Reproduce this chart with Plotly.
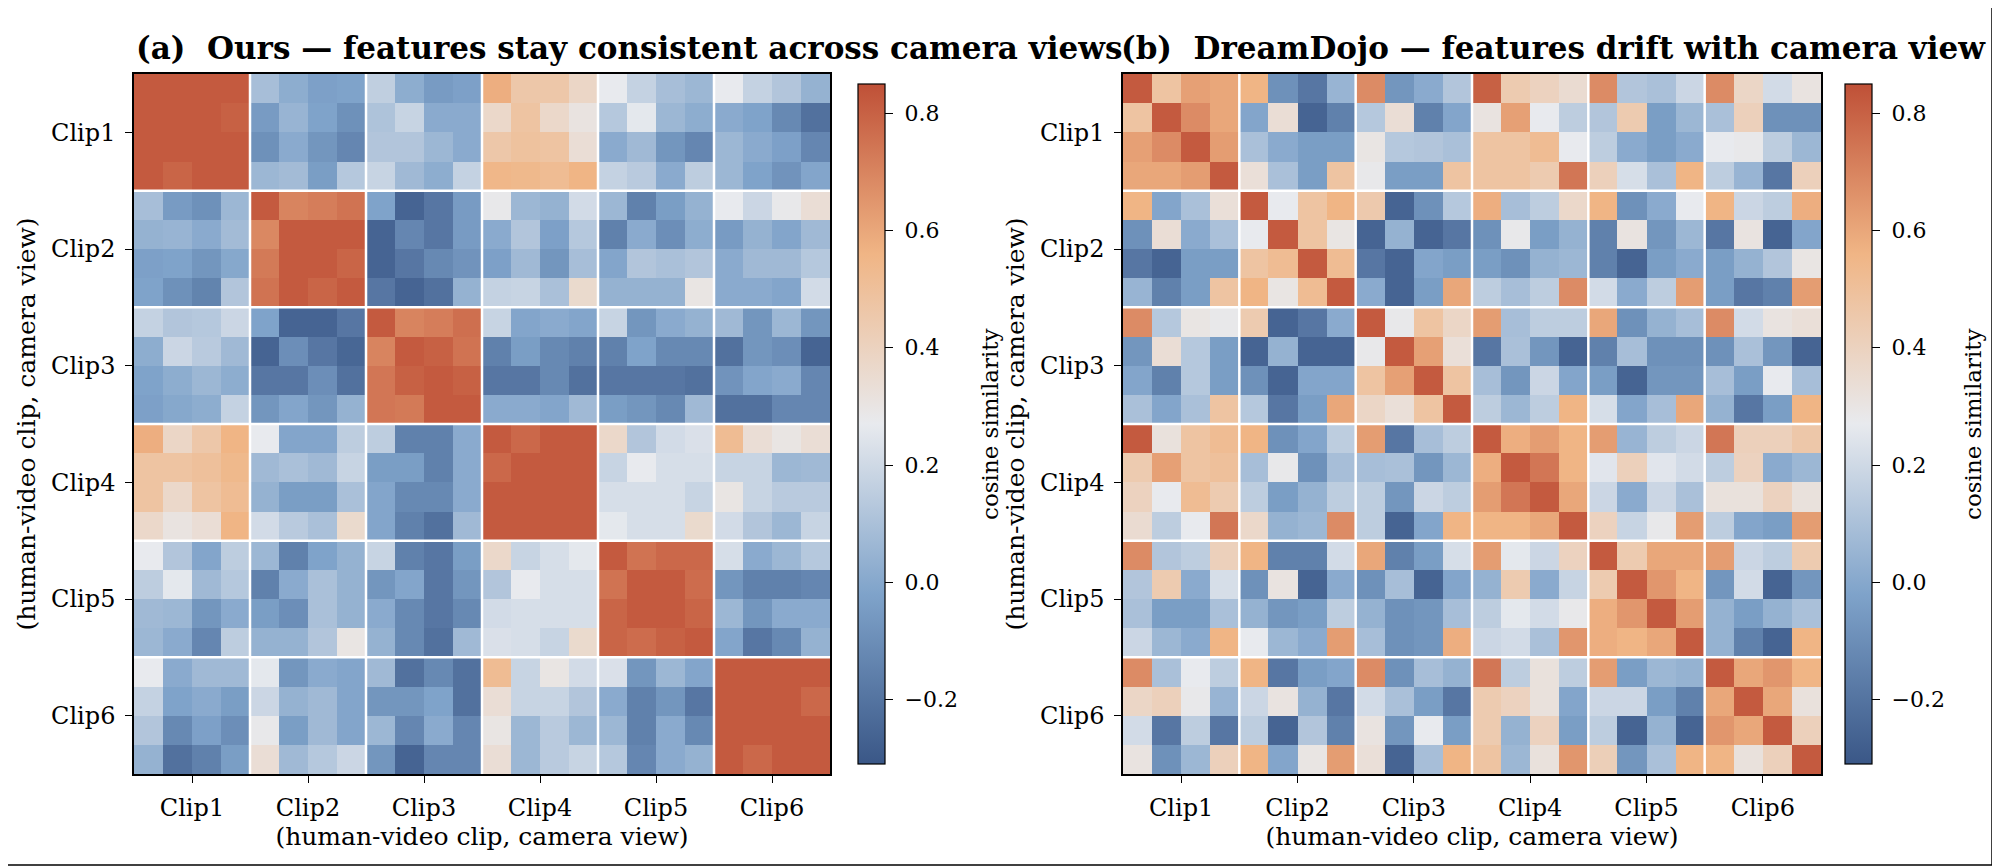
import plotly.graph_objects as go

clip_labels = ["Clip1", "Clip2", "Clip3", "Clip4", "Clip5", "Clip6"]
cbar_ticks = [-0.2, 0.0, 0.2, 0.4, 0.6, 0.8]
cbar_ticktext = ["\u22120.2", "0.0", "0.2", "0.4", "0.6", "0.8"]
cbar_label = "cosine similarity"

# (a) Ours: 24x24 cosine similarity (6 clips x 4 camera views)
ours = [
    [0.82,0.82,0.82,0.82, 0.09,0.02,-0.03,-0.02, 0.16,0.02,-0.05,-0.03, 0.58,0.46,0.46,0.38, 0.27,0.17,0.09,0.06, 0.27,0.17,0.12,0.04],
    [0.82,0.82,0.82,0.80, -0.05,0.05,-0.02,-0.09, 0.11,0.18,0.01,0.01, 0.37,0.48,0.37,0.31, 0.13,0.26,0.06,0.02, 0.01,-0.02,-0.12,-0.21],
    [0.82,0.82,0.82,0.82, -0.09,0.01,-0.07,-0.13, 0.12,0.12,0.06,0.01, 0.46,0.49,0.48,0.34, 0.01,0.07,-0.07,-0.13, 0.06,0.01,-0.03,-0.13],
    [0.82,0.79,0.82,0.82, 0.06,0.08,-0.04,0.13, 0.18,0.07,0.02,0.17, 0.55,0.54,0.52,0.56, 0.17,0.14,0.01,0.15, 0.06,-0.02,-0.08,-0.01],
    [0.09,-0.05,-0.09,0.06, 0.82,0.70,0.72,0.75, -0.02,-0.26,-0.19,-0.05, 0.28,0.06,0.04,0.21, 0.06,-0.15,-0.04,0.04, 0.27,0.19,0.28,0.34],
    [0.04,0.05,0.01,0.08, 0.69,0.82,0.82,0.82, -0.26,-0.13,-0.19,-0.05, 0.01,0.12,-0.03,0.13, -0.15,0.01,-0.10,0.02, -0.05,0.04,-0.01,0.07],
    [-0.03,-0.02,-0.07,0.00, 0.73,0.82,0.82,0.79, -0.26,-0.19,-0.12,-0.08, -0.03,0.07,-0.07,0.09, -0.01,0.12,0.10,0.12, 0.01,0.07,0.07,0.13],
    [-0.02,-0.09,-0.14,0.12, 0.75,0.82,0.79,0.82, -0.19,-0.26,-0.21,0.04, 0.17,0.18,0.10,0.36, 0.04,0.04,0.04,0.30, 0.01,0.01,-0.01,0.21],
    [0.17,0.12,0.13,0.19, -0.02,-0.26,-0.26,-0.19, 0.82,0.70,0.72,0.76, 0.18,-0.01,0.01,-0.01, 0.18,-0.07,0.01,0.04, 0.07,-0.07,0.06,-0.07],
    [0.02,0.19,0.14,0.07, -0.26,-0.10,-0.19,-0.25, 0.70,0.82,0.80,0.75, -0.15,-0.04,-0.12,-0.15, -0.15,-0.02,-0.12,-0.12, -0.21,-0.07,-0.10,-0.26],
    [-0.02,0.02,0.06,0.02, -0.19,-0.19,-0.10,-0.21, 0.74,0.80,0.82,0.80, -0.19,-0.19,-0.12,-0.21, -0.19,-0.19,-0.19,-0.21, -0.08,-0.01,0.01,-0.13],
    [-0.03,0.00,0.02,0.17, -0.07,-0.01,-0.07,0.04, 0.74,0.73,0.82,0.82, 0.01,0.01,-0.01,0.07, -0.04,-0.07,-0.12,0.07, -0.21,-0.21,-0.13,-0.13],
    [0.58,0.38,0.46,0.56, 0.27,-0.01,-0.01,0.15, 0.15,-0.15,-0.15,0.01, 0.82,0.78,0.82,0.82, 0.37,0.12,0.21,0.23, 0.52,0.34,0.30,0.34],
    [0.48,0.48,0.50,0.54, 0.07,0.10,0.07,0.18, -0.04,-0.04,-0.15,0.01, 0.78,0.82,0.82,0.82, 0.18,0.27,0.22,0.22, 0.18,0.18,0.06,0.07],
    [0.48,0.37,0.48,0.52, 0.04,-0.04,-0.04,0.10, -0.01,-0.12,-0.12,0.01, 0.82,0.82,0.82,0.82, 0.22,0.22,0.22,0.18, 0.30,0.18,0.14,0.14],
    [0.37,0.31,0.34,0.56, 0.21,0.14,0.10,0.36, -0.01,-0.15,-0.21,0.07, 0.82,0.82,0.82,0.82, 0.26,0.22,0.22,0.36, 0.21,0.12,0.06,0.18],
    [0.27,0.12,-0.01,0.15, 0.06,-0.15,-0.02,0.04, 0.18,-0.15,-0.19,-0.04, 0.37,0.18,0.22,0.26, 0.82,0.75,0.78,0.78, 0.22,0.01,0.06,0.13],
    [0.15,0.26,0.07,0.13, -0.15,0.01,0.10,0.04, -0.07,-0.01,-0.19,-0.07, 0.12,0.27,0.22,0.22, 0.75,0.82,0.82,0.77, -0.07,-0.15,-0.15,-0.13],
    [0.07,0.06,-0.07,0.01, -0.04,-0.10,0.10,0.04, 0.01,-0.12,-0.19,-0.12, 0.21,0.22,0.22,0.22, 0.79,0.82,0.82,0.79, 0.06,-0.07,0.01,0.01],
    [0.06,0.01,-0.13,0.15, 0.04,0.04,0.12,0.30, 0.04,-0.12,-0.21,0.07, 0.23,0.22,0.18,0.36, 0.79,0.77,0.80,0.82, -0.01,-0.19,-0.12,0.04],
    [0.27,0.01,0.07,0.07, 0.26,-0.07,0.01,-0.01, 0.07,-0.21,-0.12,-0.21, 0.52,0.18,0.30,0.21, 0.23,-0.07,0.06,-0.01, 0.82,0.82,0.82,0.82],
    [0.17,-0.02,0.01,-0.04, 0.19,0.04,0.07,-0.01, -0.07,-0.07,-0.02,-0.21, 0.34,0.18,0.18,0.12, 0.01,-0.15,-0.07,-0.19, 0.82,0.82,0.82,0.78],
    [0.12,-0.12,-0.03,-0.10, 0.28,-0.04,0.07,-0.01, 0.06,-0.13,0.01,-0.13, 0.30,0.06,0.14,0.06, 0.06,-0.15,0.01,-0.12, 0.82,0.82,0.82,0.82],
    [0.04,-0.21,-0.15,-0.04, 0.34,0.07,0.13,0.19, -0.07,-0.26,-0.13,-0.13, 0.34,0.06,0.14,0.18, 0.13,-0.13,0.01,0.04, 0.82,0.78,0.82,0.82],
]

# (b) DreamDojo: 24x24 cosine similarity
dreamdojo = [
    [0.82,0.48,0.62,0.60, 0.56,-0.09,-0.19,0.05, 0.68,-0.07,0.01,0.12, 0.80,0.44,0.40,0.35, 0.68,0.12,0.10,0.19, 0.68,0.38,0.21,0.31],
    [0.48,0.82,0.68,0.60, -0.01,0.34,-0.26,-0.15, 0.13,0.34,-0.15,-0.01, 0.31,0.62,0.27,0.15, 0.12,0.44,-0.04,0.06, 0.10,0.41,-0.09,-0.09],
    [0.62,0.68,0.82,0.63, 0.10,0.01,-0.04,-0.04, 0.30,0.13,0.12,0.10, 0.48,0.48,0.52,0.27, 0.15,0.01,-0.04,0.01, 0.27,0.28,0.15,0.06],
    [0.60,0.60,0.63,0.82, 0.33,0.10,-0.04,0.48, 0.28,-0.04,-0.04,0.48, 0.48,0.48,0.44,0.74, 0.41,0.22,0.10,0.56, 0.15,0.05,-0.19,0.41],
    [0.56,-0.01,0.10,0.33, 0.82,0.27,0.48,0.56, 0.45,-0.26,-0.09,0.13, 0.58,0.09,0.15,0.37, 0.56,-0.09,0.01,0.27, 0.56,0.19,0.15,0.58],
    [-0.09,0.34,0.01,0.10, 0.27,0.82,0.48,0.30, -0.26,0.04,-0.26,-0.19, -0.09,0.28,-0.04,0.04, -0.15,0.31,-0.07,0.06, -0.19,0.31,-0.26,-0.01],
    [-0.19,-0.26,-0.04,-0.04, 0.48,0.52,0.82,0.52, -0.19,-0.26,-0.01,-0.04, -0.04,-0.09,0.04,0.06, -0.15,-0.26,-0.04,0.01, -0.04,0.04,0.12,0.30],
    [0.05,-0.15,-0.04,0.48, 0.56,0.30,0.52,0.82, 0.01,-0.26,-0.04,0.60, 0.15,0.09,0.15,0.68, 0.21,0.01,0.15,0.63, -0.04,-0.19,-0.15,0.63],
    [0.68,0.13,0.30,0.28, 0.44,-0.26,-0.19,0.01, 0.82,0.28,0.48,0.38, 0.63,0.09,0.15,0.15, 0.60,-0.09,0.04,0.09, 0.68,0.21,0.31,0.33],
    [-0.07,0.34,0.13,-0.04, -0.26,0.04,-0.26,-0.26, 0.28,0.82,0.62,0.33, -0.19,0.10,-0.07,-0.26, -0.15,0.09,-0.09,-0.09, -0.09,0.10,-0.07,-0.26],
    [-0.01,-0.15,0.13,-0.04, -0.09,-0.26,-0.01,-0.01, 0.48,0.62,0.82,0.48, 0.09,-0.07,0.19,-0.01, -0.04,-0.26,-0.07,-0.07, 0.09,-0.04,0.27,0.09],
    [0.10,-0.01,0.10,0.48, 0.13,-0.19,-0.04,0.60, 0.38,0.33,0.48,0.82, 0.15,0.06,0.15,0.56, 0.22,-0.01,0.09,0.60, 0.04,-0.19,-0.04,0.56],
    [0.82,0.32,0.48,0.52, 0.56,-0.09,-0.01,0.15, 0.63,-0.19,0.09,0.15, 0.82,0.58,0.63,0.56, 0.63,0.05,0.15,0.19, 0.74,0.41,0.41,0.46],
    [0.44,0.62,0.48,0.50, 0.09,0.28,-0.09,0.09, 0.09,0.10,-0.07,0.06, 0.58,0.82,0.74,0.56, 0.25,0.41,0.25,0.21, 0.15,0.40,0.01,0.06],
    [0.40,0.27,0.52,0.44, 0.15,-0.04,0.04,0.15, 0.15,-0.07,0.19,0.15, 0.63,0.74,0.82,0.60, 0.19,0.01,0.19,0.10, 0.32,0.32,0.40,0.32],
    [0.35,0.15,0.27,0.74, 0.37,0.04,0.06,0.68, 0.15,-0.26,-0.01,0.56, 0.56,0.56,0.60,0.82, 0.40,0.18,0.28,0.63, 0.15,-0.01,-0.04,0.63],
    [0.68,0.12,0.15,0.41, 0.56,-0.15,-0.15,0.21, 0.60,-0.15,-0.04,0.22, 0.63,0.26,0.19,0.40, 0.82,0.44,0.60,0.60, 0.63,0.19,0.15,0.44],
    [0.12,0.44,0.01,0.22, -0.09,0.31,-0.26,0.01, -0.09,0.09,-0.26,-0.01, 0.04,0.44,0.01,0.18, 0.44,0.82,0.65,0.56, -0.07,0.21,-0.26,-0.07],
    [0.10,-0.04,-0.04,0.10, 0.04,-0.07,-0.04,0.15, 0.04,-0.09,-0.07,0.09, 0.15,0.26,0.21,0.28, 0.58,0.65,0.82,0.63, 0.04,-0.04,0.04,0.10],
    [0.19,0.06,0.01,0.56, 0.27,0.06,0.01,0.63, 0.09,-0.09,-0.07,0.58, 0.19,0.21,0.10,0.65, 0.58,0.56,0.60,0.82, 0.04,-0.15,-0.26,0.56],
    [0.68,0.10,0.27,0.15, 0.56,-0.19,-0.04,-0.01, 0.68,-0.09,0.09,0.04, 0.74,0.15,0.32,0.15, 0.63,-0.04,0.06,0.04, 0.82,0.60,0.65,0.56],
    [0.38,0.41,0.28,0.05, 0.19,0.31,0.04,-0.19, 0.21,0.10,-0.04,-0.19, 0.44,0.40,0.32,-0.01, 0.19,0.19,-0.04,-0.15, 0.60,0.82,0.60,0.32],
    [0.21,-0.19,0.15,-0.19, 0.15,-0.26,0.12,-0.15, 0.31,-0.07,0.27,-0.04, 0.44,0.04,0.40,-0.04, 0.15,-0.26,0.04,-0.26, 0.65,0.60,0.82,0.41],
    [0.31,-0.09,0.06,0.41, 0.56,-0.01,0.30,0.63, 0.33,-0.26,0.09,0.56, 0.48,0.06,0.32,0.65, 0.42,-0.07,0.10,0.56, 0.56,0.32,0.41,0.82],
]

ZMIN, ZMAX = -0.31, 0.85
colorscale = [
    [0.00, "#3a5787"],
    [0.25, "#7fa3ca"],
    [0.50, "#e8eaee"],
    [0.75, "#f0b585"],
    [1.00, "#bf5037"],
]

n = len(ours)
idx = list(range(n))
per_clip = n // len(clip_labels)
tick_pos = [i * per_clip + (per_clip - 1) / 2 for i in range(len(clip_labels))]
bounds = [i * per_clip - 0.5 for i in range(1, len(clip_labels))]

FONT = "DejaVu Serif"
W, H = 2000, 867
OFF = 8  # page offset of the plot div inside the browser window
ytop, ybot = (74 - OFF) / H, (774 - OFF) / H
ydom = [1 - ybot, 1 - ytop]
ymid = (ydom[0] + ydom[1]) / 2
x1dom = [(134 - OFF) / W, (830 - OFF) / W]
x2dom = [(1123 - OFF) / W, (1821 - OFF) / W]


def cbar(xpix):
    return dict(
        x=(xpix - OFF) / W, xanchor="left", xpad=0,
        y=ymid, yanchor="middle",
        len=ydom[1] - ydom[0], lenmode="fraction",
        thickness=27, thicknessmode="pixels",
        outlinewidth=1.2, outlinecolor="black",
        tickvals=cbar_ticks, ticktext=["\u00a0" + t for t in cbar_ticktext],
        ticks="outside", ticklen=8, tickcolor="black", tickwidth=1.2,
        tickfont=dict(family=FONT, size=22, color="black"),
    )


fig = go.Figure()
fig.add_trace(go.Heatmap(z=ours, x=idx, y=idx, zmin=ZMIN, zmax=ZMAX,
                         colorscale=colorscale, colorbar=cbar(858),
                         xaxis="x", yaxis="y"))
fig.add_trace(go.Heatmap(z=dreamdojo, x=idx, y=idx, zmin=ZMIN, zmax=ZMAX,
                         colorscale=colorscale, colorbar=cbar(1845),
                         xaxis="x2", yaxis="y2"))

axis_common = dict(
    tickvals=tick_pos, ticktext=clip_labels, ticks="outside", ticklen=7,
    tickwidth=1.2, tickcolor="black", showline=True, mirror=True,
    linecolor="black", linewidth=1.5, showgrid=False, zeroline=False,
    tickfont=dict(family=FONT, size=24, color="black"),
)
xtitle = dict(text="(human-video clip, camera view)",
              font=dict(family=FONT, size=25, color="black"), standoff=6)
ytitle = dict(text="(human-video clip, camera view)",
              font=dict(family=FONT, size=25, color="black"), standoff=8)

fig.update_layout(
    width=W, height=H,
    margin=dict(l=0, r=0, t=0, b=0),
    paper_bgcolor="white", plot_bgcolor="white",
    font=dict(family=FONT, color="black"),
    xaxis=dict(domain=x1dom, range=[-0.5, n - 0.5], anchor="y", title=xtitle,
               ticklabelstandoff=4, **axis_common),
    yaxis=dict(domain=ydom, range=[n - 0.5, -0.5], anchor="x", title=ytitle,
               ticklabelstandoff=5, **axis_common),
    xaxis2=dict(domain=x2dom, range=[-0.5, n - 0.5], anchor="y2", title=xtitle,
                ticklabelstandoff=4, **axis_common),
    yaxis2=dict(domain=ydom, range=[n - 0.5, -0.5], anchor="x2", title=ytitle,
                ticklabelstandoff=5, **axis_common),
)

shapes = []
for xr, yr in (("x", "y"), ("x2", "y2")):
    for b in bounds:
        shapes.append(dict(type="line", xref=xr, yref=yr, x0=b, x1=b, y0=-0.5, y1=n - 0.5,
                           line=dict(color="white", width=2.5), layer="above"))
        shapes.append(dict(type="line", xref=xr, yref=yr, y0=b, y1=b, x0=-0.5, x1=n - 0.5,
                           line=dict(color="white", width=2.5), layer="above"))
# thin frame lines at the bottom and right edges of the image
fy = 1 - (865 - OFF) / H
fx = (1992 - OFF) / W
shapes.append(dict(type="line", xref="paper", yref="paper", x0=0, x1=fx, y0=fy, y1=fy,
                   line=dict(color="black", width=1.5)))
shapes.append(dict(type="line", xref="paper", yref="paper", x0=fx, x1=fx, y0=fy, y1=1,
                   line=dict(color="black", width=1.5)))
fig.update_layout(shapes=shapes)

titles = [
    ("(a)  Ours \u2014 features stay consistent across camera views", x1dom[0]),
    ("(b)  DreamDojo \u2014 features drift with camera view", x2dom[0] - 0.002),
]
for text, xpos in titles:
    fig.add_annotation(text="<b>" + text + "</b>", xref="paper", yref="paper",
                       x=xpos, y=1 - (48 - OFF) / H, xanchor="left", yanchor="middle",
                       showarrow=False, font=dict(family=FONT, size=31, color="black"))

# colorbar labels (rotated), placed like the reference
for xpix in (990, 1973):
    fig.add_annotation(text=cbar_label, xref="paper", yref="paper",
                       x=(xpix - OFF) / W, y=ymid, xanchor="center", yanchor="middle",
                       textangle=-90, showarrow=False,
                       font=dict(family=FONT, size=23, color="black"))

fig.write_html("out.html")
